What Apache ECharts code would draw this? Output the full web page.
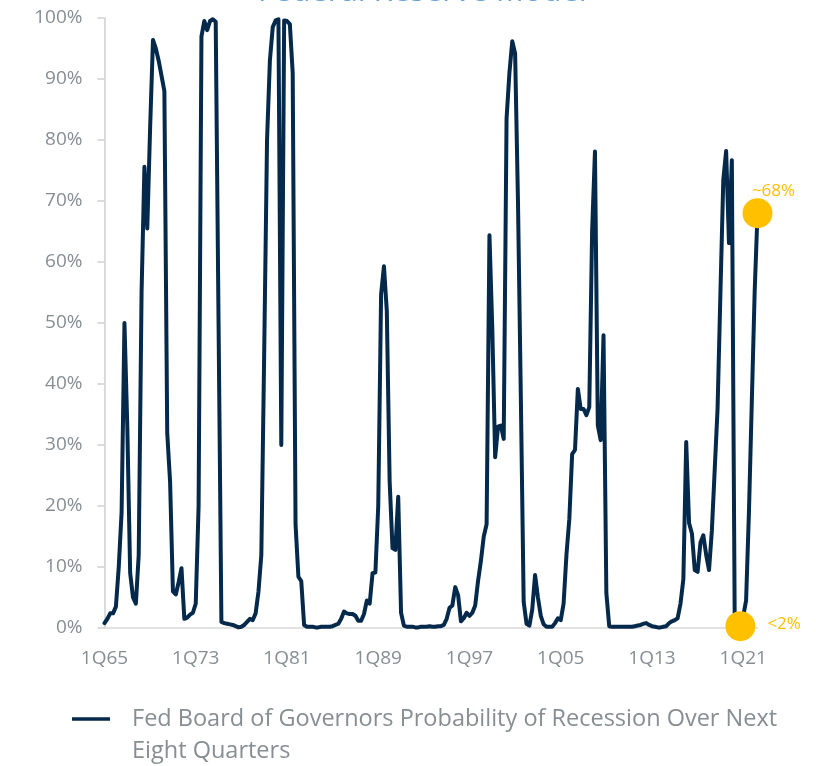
<!DOCTYPE html>
<html>
<head>
<meta charset="utf-8">
<script src="https://cdn.jsdelivr.net/npm/echarts@6/dist/echarts.min.js"></script>
<style>
  html, body { margin: 0; padding: 0; background: #ffffff; }
  #chart { width: 816px; height: 766px; }
</style>
</head>
<body>
<div id="chart"></div>
<script>
// Quarterly recession probability, 1Q65 through 2Q22 (percent)
const startYear = 1965;
const probability = [
  0.8, 1.5, 2.4, 2.4, 3.5, 10, 19, 50, 33, 9,
  5, 4, 12, 55, 75.6, 65.5, 82, 96.4, 95, 93,
  90.5, 88, 32, 24, 6, 5.5, 7.5, 9.8, 1.5, 1.7,
  2.2, 2.5, 4, 20, 97, 99.5, 98, 99.5, 99.8, 99.4,
  50, 1, 0.8, 0.7, 0.6, 0.5, 0.3, 0.1, 0.2, 0.5,
  1.0, 1.5, 1.3, 2.4, 6, 12, 45, 80, 93, 98.5,
  99.6, 99.8, 30, 99.6, 99.5, 99, 91, 17, 8.4, 7.7,
  0.5, 0.2, 0.2, 0.2, 0.1, 0.1, 0.2, 0.2, 0.2, 0.2,
  0.3, 0.5, 0.7, 1.5, 2.7, 2.4, 2.3, 2.3, 2.0, 1.2,
  1.2, 2.3, 4.5, 4.0, 9, 9.1, 20, 54.7, 59.3, 52,
  24, 13.1, 12.8, 21.5, 2.5, 0.4, 0.2, 0.2, 0.2, 0.1,
  0.1, 0.2, 0.2, 0.2, 0.3, 0.2, 0.2, 0.3, 0.3, 0.5,
  1.5, 3.3, 3.7, 6.7, 5.4, 1.1, 1.6, 2.5, 2.0, 2.5,
  3.7, 7.7, 11, 15, 17, 64.4, 49, 28, 33, 33.2,
  31, 83.5, 91, 96.2, 94.2, 70, 38, 4.3, 0.7, 0.4,
  3, 8.7, 5, 2, 0.6, 0.2, 0.2, 0.2, 0.8, 1.6,
  1.3, 4, 12, 17.8, 28.5, 29.2, 39.2, 35.9, 35.9, 34.9,
  36.2, 65, 78.1, 33.2, 30.8, 48, 5.7, 0.3, 0.2, 0.2,
  0.2, 0.2, 0.2, 0.2, 0.2, 0.2, 0.3, 0.4, 0.5, 0.7,
  0.8, 0.5, 0.3, 0.2, 0.1, 0.1, 0.2, 0.3, 0.8, 1.1,
  1.3, 1.6, 4, 8, 30.5, 17.2, 15.5, 9.5, 9.2, 14,
  15.2, 12, 9.5, 16, 26, 36, 55, 73.4, 78.2, 63.1,
  76.7, 2, 0.8, 0.3, 2, 4.5, 19, 37, 55, 68
];

// Axis labels shown along the bottom
const tickLabels = ['1Q65', '1Q73', '1Q81', '1Q89', '1Q97', '1Q05', '1Q13', '1Q21'];

// Highlighted readings
const calloutQuarters = ['4Q20', '2Q22'];
const calloutValues = [0.3, 68];
const calloutTexts = ['<2%', '~68%'];

const seriesName = 'Fed Board of Governors Probability of Recession Over Next Eight Quarters';
const legendLines = ['Fed Board of Governors Probability of Recession Over Next', 'Eight Quarters'];

// Quarter labels such as "1Q65"
const quarters = probability.map((_, i) => {
  const year = startYear + Math.floor(i / 4);
  return (i % 4 + 1) + 'Q' + String(year % 100).padStart(2, '0');
});

const FONT = 'Open Sans';
const GREY = '#868e93';
const NAVY = '#04294b';
const GOLD = '#ffc000';

const chart = echarts.init(document.getElementById('chart'), null, { renderer: 'canvas' });

chart.setOption({
  animation: false,
  backgroundColor: '#ffffff',
  title: {
    text: 'Federal Reserve Model',
    left: 253,
    top: -28,
    textStyle: { color: '#6ea3d6', fontFamily: FONT, fontSize: 31, fontWeight: 'normal' }
  },
  grid: { left: 104.5, right: 58.5, top: 18, bottom: 138, containLabel: false },
  legend: {
    data: [seriesName],
    left: 67,
    top: 666,
    icon: 'rect',
    itemWidth: 38,
    itemHeight: 3.5,
    formatter: () => '\n' + legendLines.join('\n'),
    textStyle: {
      color: GREY, fontFamily: FONT, fontSize: 23.5, lineHeight: 32,
      padding: [0, 0, 0, 17]
    }
  },
  xAxis: {
    type: 'category',
    data: quarters,
    boundaryGap: false,
    axisLine: { lineStyle: { color: '#d9d9d9', width: 1.5 } },
    axisTick: { show: false },
    axisLabel: {
      interval: (idx, val) => tickLabels.includes(val),
      color: GREY, fontFamily: FONT, fontSize: 19, margin: 21
    },
    splitLine: { show: false }
  },
  yAxis: {
    type: 'value',
    min: 0,
    max: 100,
    interval: 10,
    axisLine: { show: true, lineStyle: { color: '#cfcfcf', width: 1.5 } },
    axisTick: { show: true, inside: false, length: 7, lineStyle: { color: '#cfcfcf', width: 1.5 } },
    axisLabel: { formatter: '{value}%', color: GREY, fontFamily: FONT, fontSize: 19, margin: 22 },
    splitLine: { show: false }
  },
  series: [
    {
      name: seriesName,
      type: 'line',
      data: probability,
      symbol: 'none',
      color: NAVY,
      lineStyle: { color: NAVY, width: 4, cap: 'round', join: 'round' },
      z: 2
    },
    {
      name: 'callouts',
      type: 'scatter',
      data: calloutQuarters.map((q, i) => ({
        value: [q, calloutValues[i]],
        label: i === 0
          ? { position: 'right', distance: 12, offset: [0, -2] }
          : { position: 'top', distance: 0, offset: [16, 1] }
      })),
      symbol: 'circle',
      symbolSize: 30,
      itemStyle: { color: GOLD, opacity: 1 },
      label: {
        show: true,
        color: GOLD,
        fontFamily: FONT,
        fontSize: 17,
        formatter: (p) => calloutTexts[p.dataIndex]
      },
      z: 3
    }
  ]
});
</script>
</body>
</html>
